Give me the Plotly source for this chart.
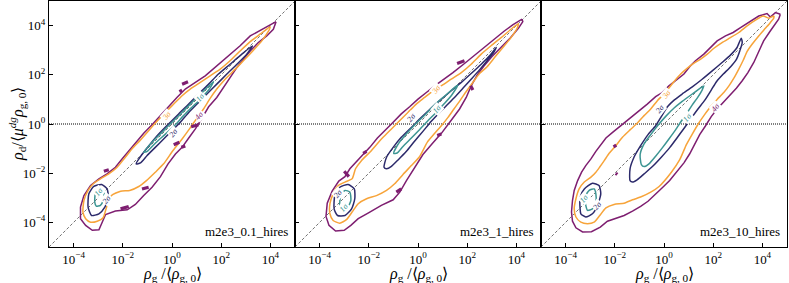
import plotly.graph_objects as go

# ---------------- data: contour vertices (log10 units) ----------------
TICK_VALUES = [1e-4, 1e-2, 1e0, 1e2, 1e4]
TICK_TEXT = ["10<sup>−4</sup>", "10<sup>−2</sup>", "10<sup>0</sup>", "10<sup>2</sup>", "10<sup>4</sup>"]
RUN_NAMES = ["m2e3_0.1_hires", "m2e3_1_hires", "m2e3_10_hires"]
LEVEL_NAMES = ["1σ", "2σ", "3σ", "4σ"]

# ---- panel 1 ----
P1_SIG4 = [(4.23, 4.16), (3.65, 3.85), (3.18, 3.58), (2.77, 3.18), (2.30, 2.77), (1.82, 2.36), (1.35, 1.96),
           (0.95, 1.69), (0.54, 1.42), (0.20, 1.08), (-0.14, 0.70), (-0.47, 0.34), (-0.81, -0.03), (-1.15, -0.38),
           (-1.46, -0.74), (-1.76, -1.08), (-2.03, -1.42), (-2.30, -1.76), (-2.64, -2.03), (-2.97, -2.23),
           (-3.31, -2.50), (-3.58, -2.91), (-3.72, -3.38), (-3.72, -3.85), (-3.51, -4.12), (-3.24, -4.32),
           (-2.97, -4.30), (-2.70, -3.68), (-2.30, -3.54), (-1.82, -3.49), (-1.49, -3.27), (-1.15, -2.91),
           (-0.81, -2.57), (-0.47, -2.14), (-0.16, -1.62), (0.14, -1.22), (0.41, -0.95), (0.68, -0.57),
           (0.95, -0.20), (1.22, 0.24), (1.49, 0.70), (1.82, 1.08), (2.09, 1.49), (2.36, 1.89), (2.64, 2.30),
           (2.91, 2.64), (3.18, 2.97), (3.51, 3.31), (3.85, 3.58), (4.12, 3.85), (4.23, 4.16)]
P1_SIG3 = [(3.99, 3.95), (3.58, 3.65), (3.18, 3.35), (2.77, 2.97), (2.36, 2.57), (1.96, 2.23), (1.55, 1.96),
           (1.15, 1.69), (0.74, 1.42), (0.41, 1.15), (0.07, 0.81), (-0.27, 0.47), (-0.61, 0.11), (-0.95, -0.27),
           (-1.28, -0.65), (-1.62, -1.01), (-1.92, -1.38), (-2.23, -1.76), (-2.57, -2.03), (-2.91, -2.23),
           (-3.18, -2.41), (-3.41, -2.70), (-3.58, -3.11), (-3.62, -3.58), (-3.51, -3.85), (-3.31, -3.99),
           (-3.04, -3.95), (-2.80, -3.81), (-2.66, -3.38), (-2.46, -2.91), (-2.09, -2.73), (-1.72, -2.70),
           (-1.35, -2.54), (-1.04, -2.30), (-0.68, -1.96), (-0.34, -1.62), (0.04, -1.08), (0.41, -0.61),
           (0.74, -0.16), (1.01, 0.24), (1.28, 0.61), (1.55, 1.04), (1.82, 1.42), (2.16, 1.82), (2.57, 2.23),
           (2.97, 2.64), (3.31, 3.00), (3.65, 3.38), (3.89, 3.72), (3.99, 3.95)]
P1_SIG2 = [(-1.46, -1.62), (-1.22, -1.24), (-0.88, -0.81), (-0.54, -0.41), (-0.14, 0.0), (0.27, 0.41),
           (0.68, 0.81), (1.08, 1.22), (1.49, 1.62), (1.89, 2.03), (2.36, 2.43), (2.84, 2.84), (3.27, 3.18),
           (3.04, 2.84), (2.64, 2.43), (2.23, 2.03), (1.82, 1.62), (1.42, 1.22), (1.08, 0.88), (0.68, 0.47),
           (0.34, 0.07), (0.0, -0.27), (-0.34, -0.61), (-0.68, -0.95), (-1.01, -1.28), (-1.28, -1.58), (-1.46, -1.62)]
P1_SIG2_LOW = [(-3.41, -3.38), (-3.38, -2.84), (-3.18, -2.54), (-2.86, -2.46), (-2.64, -2.64), (-2.59, -2.97),
               (-2.73, -3.38), (-2.97, -3.65), (-3.27, -3.72), (-3.41, -3.38)]
P1_SIG1 = [(-1.15, -1.15), (-0.81, -0.74), (-0.41, -0.34), (0.0, 0.07), (0.41, 0.47), (0.81, 0.88), (1.22, 1.28),
           (1.69, 1.72), (1.49, 1.38), (1.15, 1.01), (0.81, 0.68), (0.47, 0.34), (0.14, -0.03), (-0.27, -0.41),
           (-0.68, -0.78), (-1.01, -1.11), (-1.15, -1.15)]
P1_SIG1_LOW = [(-3.14, -3.18), (-3.11, -2.81), (-2.95, -2.68), (-2.77, -2.77), (-2.80, -3.11), (-2.91, -3.31),
               (-3.08, -3.34), (-3.14, -3.18)]
P1_ISLANDS = [[(0.41, 1.62), (0.65, 1.72)], [(0.30, 1.32), (0.41, 1.38)], [(0.78, -0.11), (1.08, -0.03)],
              [(0.07, -0.84), (0.30, -0.74)], [(0.38, -0.95), (0.54, -0.89)], [(-1.22, -2.64), (-0.95, -2.57)],
              [(-2.09, -3.45), (-1.76, -3.35)], [(-2.77, -1.92), (-2.57, -1.86)]]
P1_LABELS = [(1.15, 1.08, 0), (0.07, -0.34, 1), (-0.20, 0.34, 2), (1.11, 0.34, 3), (-2.97, -2.73, 0), (-2.66, -3.05, 1)]

# ---- panel 2 ----
P2_SIG4 = [(4.23, 4.26), (3.85, 4.03), (3.51, 3.78), (3.11, 3.45), (2.70, 3.11), (2.30, 2.77), (1.89, 2.46),
           (1.42, 2.09), (1.01, 1.80), (0.68, 1.55), (0.34, 1.28), (0.0, 1.01), (-0.34, 0.70), (-0.68, 0.41),
           (-1.01, 0.07), (-1.35, -0.27), (-1.65, -0.57), (-1.96, -0.95), (-2.23, -1.24), (-2.50, -1.51),
           (-2.77, -1.82), (-2.97, -2.14), (-3.22, -2.32), (-3.49, -2.73), (-3.69, -3.22), (-3.74, -3.76),
           (-3.62, -4.12), (-3.35, -4.35), (-3.00, -4.32), (-2.73, -4.12), (-2.43, -3.85), (-2.03, -3.62),
           (-1.49, -3.31), (-1.01, -3.08), (-0.74, -2.77), (-0.47, -2.30), (-0.14, -1.76), (0.20, -1.24),
           (0.54, -0.84), (0.95, -0.38), (1.32, 0.11), (1.69, 0.61), (1.96, 1.08), (2.16, 1.55), (2.41, 2.00),
           (2.68, 2.36), (3.00, 2.73), (3.38, 3.11), (3.76, 3.51), (4.08, 3.89), (4.26, 4.16), (4.23, 4.26)]
P2_SIG3 = [(4.08, 4.08), (3.78, 3.85), (3.38, 3.51), (2.97, 3.18), (2.57, 2.84), (2.16, 2.43), (1.76, 2.09),
           (1.35, 1.82), (0.95, 1.55), (0.61, 1.35), (0.27, 1.08), (-0.07, 0.81), (-0.41, 0.47), (-0.74, 0.14),
           (-1.08, -0.20), (-1.42, -0.54), (-1.69, -0.84), (-1.96, -1.15), (-2.30, -1.49), (-2.54, -1.82),
           (-2.68, -2.23), (-2.97, -2.36), (-3.24, -2.50), (-3.45, -2.84), (-3.58, -3.24), (-3.58, -3.65),
           (-3.45, -3.92), (-3.18, -4.03), (-2.91, -3.89), (-2.68, -3.58), (-2.43, -3.24), (-2.09, -3.04),
           (-1.69, -2.91), (-1.28, -2.70), (-0.95, -2.43), (-0.61, -2.05), (-0.27, -1.69), (0.07, -1.32),
           (0.38, -0.74), (0.68, -0.38), (0.95, -0.07), (1.22, 0.27), (1.46, 0.61), (1.72, 0.97), (1.96, 1.32),
           (2.23, 1.69), (2.50, 2.05), (2.80, 2.32), (3.11, 2.70), (3.45, 3.11), (3.78, 3.51), (4.03, 3.89),
           (4.08, 4.08)]
P2_SIG2 = [(-1.38, -1.76), (-1.28, -1.35), (-1.01, -0.95), (-0.68, -0.54), (-0.27, -0.14), (0.14, 0.27),
           (0.54, 0.65), (0.95, 1.01), (1.35, 1.35), (1.76, 1.69), (2.16, 2.05), (2.57, 2.43), (2.91, 2.77),
           (3.18, 3.11), (3.08, 2.91), (2.81, 2.57), (2.50, 2.20), (2.16, 1.82), (1.86, 1.49), (1.55, 1.15),
           (1.22, 0.81), (0.88, 0.47), (0.54, 0.11), (0.20, -0.30), (-0.14, -0.70), (-0.47, -1.11),
           (-0.81, -1.46), (-1.08, -1.72), (-1.28, -1.82), (-1.38, -1.76)]
P2_SIG2_LOW = [(-3.41, -3.45), (-3.38, -2.91), (-3.18, -2.57), (-2.84, -2.46), (-2.59, -2.64), (-2.57, -3.04),
               (-2.70, -3.45), (-2.97, -3.72), (-3.27, -3.72), (-3.41, -3.45)]
P2_SIG1 = [(-0.99, -1.19), (-0.78, -0.78), (-0.45, -0.38), (-0.07, 0.03), (0.34, 0.43), (0.74, 0.84),
           (1.15, 1.19), (1.62, 1.59), (1.38, 1.19), (1.08, 0.84), (0.74, 0.47), (0.41, 0.14), (0.07, -0.22),
           (-0.27, -0.57), (-0.61, -0.91), (-0.85, -1.18), (-0.99, -1.19)]
P2_SIG1_LOW = [(-3.18, -3.31), (-3.14, -2.91), (-2.97, -2.70), (-2.77, -2.77), (-2.73, -3.11), (-2.86, -3.38),
               (-3.08, -3.45), (-3.18, -3.31)]
P2_ISLANDS = [[(1.59, 2.46), (1.89, 2.57)], [(2.14, 1.55), (2.23, 1.38)], [(0.78, -0.47), (0.95, -0.41)],
              [(-3.00, -1.92), (-2.81, -2.14)], [(-2.23, -1.19), (-2.09, -1.11)], [(-0.88, -2.77), (-0.68, -2.64)]]
P2_LABELS = [(0.81, 0.61, 0), (-0.27, 0.27, 1), (0.74, 1.42, 2), (-3.00, -3.41, 0), (-3.24, -2.84, 1)]

# ---- panel 3 ----
P3_SIG4 = [(4.73, 4.46), (4.53, 4.53), (4.32, 4.35), (4.19, 4.49), (3.85, 4.39), (3.51, 4.19), (3.11, 3.92),
           (2.81, 3.72), (2.50, 3.58), (2.16, 3.38), (1.89, 3.11), (1.62, 2.84), (1.28, 2.57), (1.05, 2.34),
           (0.81, 2.03), (0.51, 1.81), (0.20, 1.55), (-0.07, 1.28), (-0.34, 1.11), (-0.68, 0.81), (-1.01, 0.54),
           (-1.42, 0.24), (-1.76, -0.07), (-2.09, -0.34), (-2.36, -0.57), (-2.57, -0.84), (-2.77, -1.11),
           (-2.97, -1.42), (-3.18, -1.69), (-3.35, -1.96), (-3.51, -2.30), (-3.65, -2.70), (-3.72, -3.11),
           (-3.76, -3.58), (-3.72, -3.95), (-3.58, -4.22), (-3.31, -4.39), (-2.95, -4.38), (-2.59, -4.19),
           (-2.30, -3.95), (-1.96, -3.85), (-1.62, -3.72), (-1.28, -3.54), (-0.95, -3.35), (-0.65, -3.14),
           (-0.34, -2.86), (-0.07, -2.59), (0.23, -2.30), (0.54, -1.92), (0.81, -1.58), (1.04, -1.22),
           (1.24, -0.81), (1.45, -0.43), (1.69, -0.07), (1.92, 0.30), (2.16, 0.61), (2.41, 0.88), (2.68, 1.18),
           (2.95, 1.46), (3.18, 1.76), (3.41, 2.09), (3.65, 2.50), (3.85, 2.97), (4.05, 3.38), (4.32, 3.78),
           (4.53, 4.05), (4.66, 4.26), (4.73, 4.46)]
P3_SIG3 = [(4.46, 4.39), (4.26, 4.30), (4.03, 4.39), (3.72, 4.22), (3.38, 3.99), (3.04, 3.72), (2.70, 3.51),
           (2.36, 3.31), (2.03, 3.08), (1.76, 2.84), (1.49, 2.64), (1.22, 2.47), (0.95, 2.27), (0.68, 2.03),
           (0.41, 1.73), (0.20, 1.46), (-0.03, 1.19), (-0.27, 0.95), (-0.54, 0.61), (-0.81, 0.34), (-1.08, 0.04),
           (-1.38, -0.24), (-1.69, -0.54), (-1.96, -0.88), (-2.23, -1.19), (-2.43, -1.49), (-2.62, -1.76),
           (-2.77, -1.96), (-2.97, -2.16), (-3.24, -2.36), (-3.45, -2.64), (-3.58, -3.04), (-3.65, -3.45),
           (-3.58, -3.78), (-3.38, -3.99), (-3.11, -4.05), (-2.84, -3.99), (-2.61, -3.72), (-2.36, -3.41),
           (-2.03, -3.27), (-1.62, -3.22), (-1.28, -3.08), (-0.95, -2.97), (-0.54, -2.77), (-0.20, -2.54),
           (0.30, -1.96), (0.64, -1.45), (0.91, -0.84), (1.15, -0.41), (1.39, 0.0), (1.65, 0.38), (1.89, 0.70),
           (2.16, 1.00), (2.43, 1.28), (2.64, 1.55), (2.84, 1.86), (3.04, 2.23), (3.22, 2.59), (3.38, 2.95),
           (3.58, 3.24), (3.85, 3.58), (4.12, 3.89), (4.32, 4.12), (4.46, 4.30), (4.46, 4.39)]
P3_SIG2 = [(-1.38, -2.30), (-1.38, -1.82), (-1.22, -1.35), (-0.95, -0.88), (-0.65, -0.43), (-0.34, -0.07),
           (-0.11, 0.30), (0.14, 0.70), (0.41, 0.97), (0.74, 1.22), (1.15, 1.51), (1.55, 1.82), (1.96, 2.16),
           (2.36, 2.50), (2.70, 2.80), (2.97, 3.11), (3.14, 3.49), (3.18, 3.31), (3.08, 2.97), (2.95, 2.64),
           (2.70, 2.32), (2.41, 2.03), (2.14, 1.73), (1.92, 1.38), (1.66, 0.97), (1.38, 0.61), (1.11, 0.24),
           (0.84, -0.14), (0.57, -0.51), (0.24, -0.95), (-0.11, -1.35), (-0.46, -1.72), (-0.81, -2.03),
           (-1.08, -2.26), (-1.28, -2.36), (-1.38, -2.30)]
P3_SIG2_LOW = [(-3.41, -3.45), (-3.41, -2.97), (-3.24, -2.64), (-2.91, -2.41), (-2.64, -2.50), (-2.57, -2.84),
               (-2.70, -3.31), (-2.91, -3.65), (-3.18, -3.78), (-3.38, -3.65), (-3.41, -3.45)]
P3_SIG1 = [(-0.92, -1.65), (-0.97, -1.24), (-0.81, -0.81), (-0.54, -0.43), (-0.27, -0.08), (0.07, 0.31),
           (0.41, 0.65), (0.74, 0.92), (1.15, 1.22), (1.62, 1.55), (1.55, 1.38), (1.35, 1.05), (1.15, 0.78),
           (0.95, 0.47), (0.70, 0.11), (0.47, -0.24), (0.20, -0.61), (-0.07, -0.97), (-0.34, -1.31),
           (-0.61, -1.62), (-0.81, -1.73), (-0.92, -1.65)]
P3_SIG1_LOW = [(-3.18, -3.31), (-3.22, -2.97), (-3.04, -2.70), (-2.84, -2.64), (-2.77, -2.84), (-2.77, -3.18),
               (-2.91, -3.45), (-3.11, -3.51), (-3.18, -3.31)]
P3_ISLANDS = [[(-2.03, -0.84), (-1.96, -0.95)], [(-1.96, -2.0), (-1.90, -2.05)]]
P3_LABELS = [(0.95, 0.27, 0), (-0.14, 0.61, 1), (0.11, 1.18, 2), (2.09, 0.68, 3), (-3.24, -3.04, 0), (-2.70, -3.31, 1)]

# ---------------- styling ----------------
COLORS = ["#3d9593", "#2c2a6b", "#f7a43a", "#7e1e70"]
FONT = "Liberation Serif, Times New Roman, serif"
W, H = 789, 283
PLOT_LEFT, PANEL_W = 49, 246
PLOT_TOP, PLOT_BOTTOM = 1, 247

panels = [
    dict(levels=[[P1_SIG1, P1_SIG1_LOW], [P1_SIG2, P1_SIG2_LOW], [P1_SIG3], [P1_SIG4]], islands=P1_ISLANDS, labels=P1_LABELS),
    dict(levels=[[P2_SIG1, P2_SIG1_LOW], [P2_SIG2, P2_SIG2_LOW], [P2_SIG3], [P2_SIG4]], islands=P2_ISLANDS, labels=P2_LABELS),
    dict(levels=[[P3_SIG1, P3_SIG1_LOW], [P3_SIG2, P3_SIG2_LOW], [P3_SIG3], [P3_SIG4]], islands=P3_ISLANDS, labels=P3_LABELS),
]

fig = go.Figure()
annotations = []
ydom = [1 - PLOT_BOTTOM / H, 1 - PLOT_TOP / H]

for i, pnl in enumerate(panels):
    xa = "x" if i == 0 else f"x{i+1}"
    ya = "y" if i == 0 else f"y{i+1}"
    # reference lines
    fig.add_trace(go.Scatter(x=[1e-5, 1e5], y=[1e-5, 1e5], mode="lines", xaxis=xa, yaxis=ya,
                             line=dict(color="#333333", width=0.7, dash="3px,2px"), showlegend=False, hoverinfo="skip"))
    fig.add_trace(go.Scatter(x=[1e-5, 1e5], y=[1, 1], mode="lines", xaxis=xa, yaxis=ya,
                             line=dict(color="#555555", width=1.6, dash="1px,1px"), showlegend=False, hoverinfo="skip"))
    # contours, outermost first
    for lev in [3, 2, 1, 0]:
        for seg in pnl["levels"][lev]:
            fig.add_trace(go.Scatter(x=[10 ** p[0] for p in seg], y=[10 ** p[1] for p in seg], mode="lines",
                                     xaxis=xa, yaxis=ya, showlegend=False, hoverinfo="skip",
                                     line=dict(color=COLORS[lev], width=1.5,
                                               shape="spline" if lev < 3 else "linear", smoothing=0.6)))
    for seg in pnl["islands"]:
        fig.add_trace(go.Scatter(x=[10 ** p[0] for p in seg], y=[10 ** p[1] for p in seg], mode="lines",
                                 xaxis=xa, yaxis=ya, showlegend=False, hoverinfo="skip",
                                 line=dict(color=COLORS[3], width=3.2)))
    for lx, ly, lev in pnl["labels"]:
        annotations.append(dict(x=lx, y=ly, xref=xa, yref=ya, text=f"<i>{LEVEL_NAMES[lev]}</i>", showarrow=False,
                                textangle=-50, bgcolor="white", borderpad=0,
                                font=dict(family=FONT, size=8, color=COLORS[lev])))
    x0 = (PLOT_LEFT + i * PANEL_W) / W
    x1 = (PLOT_LEFT + (i + 1) * PANEL_W) / W
    axis_common = dict(type="log", range=[-5, 5], tickvals=TICK_VALUES, ticks="inside", ticklen=4,
                       tickcolor="black", showline=True, linecolor="black", linewidth=1, mirror=True,
                       showgrid=False, zeroline=False, automargin=False,
                       tickfont=dict(family=FONT, size=13, color="black"))
    fig.update_layout(**{
        ("xaxis" if i == 0 else f"xaxis{i+1}"): dict(axis_common, domain=[x0, x1], anchor=ya, ticktext=TICK_TEXT),
        ("yaxis" if i == 0 else f"yaxis{i+1}"): dict(axis_common, domain=ydom, anchor=xa,
                                                     ticktext=TICK_TEXT, showticklabels=(i == 0)),
    })
    # run name
    annotations.append(dict(x=x1 - 5 / W, y=1 - 231 / H, xref="paper", yref="paper", xanchor="right",
                            yanchor="middle", text=RUN_NAMES[i], showarrow=False,
                            font=dict(family=FONT, size=13, color="black")))
    # x title
    annotations.append(dict(x=(x0 + x1) / 2, y=1 - 274 / H, xref="paper", yref="paper", xanchor="center",
                            yanchor="middle", showarrow=False,
                            text="<i>ρ</i><sub>g</sub> /⟨<i>ρ</i><sub>g, 0</sub>⟩",
                            font=dict(family=FONT, size=16, color="black")))

annotations.append(dict(x=17 / W, y=1 - 124 / H, xref="paper", yref="paper", xanchor="center", yanchor="middle",
                        showarrow=False, textangle=-90,
                        text="<i>ρ</i><sub>d</sub>/⟨<i>μ</i><sup><i>dg</i></sup><i>ρ</i><sub>g, 0</sub>⟩",
                        font=dict(family=FONT, size=16, color="black")))

fig.update_layout(width=W, height=H, margin=dict(l=0, r=0, t=0, b=0, autoexpand=False), paper_bgcolor="white",
                  plot_bgcolor="white", annotations=annotations, showlegend=False)
fig.write_html("out.html", config={"displayModeBar": False},
               post_script="document.body.style.margin='0';document.body.style.overflow='hidden';")
